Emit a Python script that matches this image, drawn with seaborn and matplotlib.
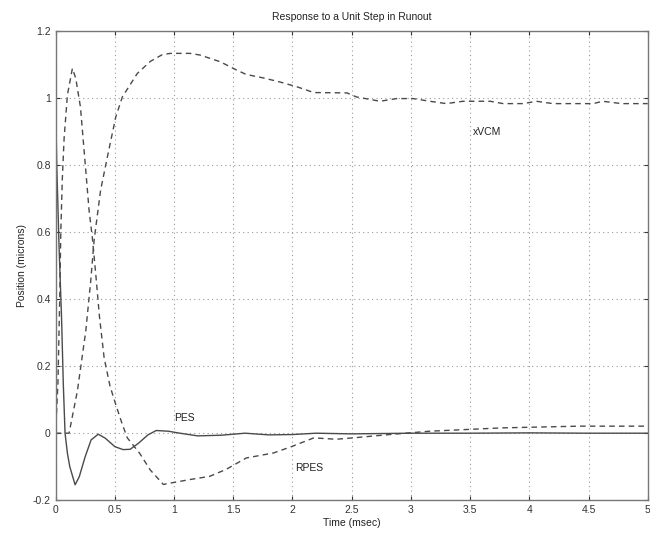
import matplotlib
matplotlib.use("Agg")
import matplotlib.pyplot as plt
import seaborn as sns

# ---- data ----
t_pes = [0.0, 0.01, 0.03, 0.05, 0.065, 0.08, 0.10, 0.12, 0.165, 0.20, 0.25, 0.30, 0.36, 0.42,
         0.50, 0.57, 0.63, 0.70, 0.78, 0.85, 0.95, 1.05, 1.2, 1.4, 1.6, 1.8, 2.0, 2.2,
         2.5, 3.0, 3.5, 4.0, 4.5, 5.0]
pes = [1.0, 0.8, 0.55, 0.35, 0.15, 0.0, -0.06, -0.10, -0.154, -0.13, -0.07, -0.02, -0.003, -0.015,
       -0.04, -0.049, -0.048, -0.03, -0.005, 0.008, 0.006, 0.0, -0.008, -0.006, 0.0, -0.005,
       -0.004, 0.0, -0.002, 0.0, 0.0, 0.001, 0.0, 0.0]

t_rpes = [0.0, 0.02, 0.035, 0.044, 0.057, 0.072, 0.10, 0.142, 0.17, 0.21, 0.255, 0.283, 0.31,
          0.339, 0.37, 0.41, 0.46, 0.508, 0.56, 0.606, 0.71, 0.80, 0.91, 1.0, 1.14, 1.30, 1.44,
          1.61, 1.84, 2.0, 2.18, 2.37, 2.51, 2.82, 3.16, 3.78, 4.42, 5.0]
rpes = [0.0, 0.15, 0.40, 0.60, 0.76, 0.88, 1.01, 1.089, 1.06, 0.974, 0.784, 0.665, 0.585,
        0.476, 0.35, 0.225, 0.14, 0.086, 0.03, -0.014, -0.06, -0.11, -0.153, -0.147, -0.138,
        -0.129, -0.108, -0.074, -0.059, -0.039, -0.014, -0.018, -0.014, -0.004, 0.006, 0.016,
        0.021, 0.021]

t_xvcm = [0.0, 0.09, 0.114, 0.184, 0.255, 0.297, 0.325, 0.38, 0.437, 0.508, 0.564, 0.69, 0.80,
          0.90, 0.97, 1.135, 1.22, 1.39, 1.53, 1.61, 1.75, 1.89, 2.04, 2.18, 2.46, 2.54, 2.74,
          2.88, 3.02, 3.16, 3.30, 3.44, 3.67, 3.78, 3.95, 4.06, 4.20, 4.54, 4.62, 4.78, 5.0]
xvcm = [0.0, 0.0, 0.0, 0.126, 0.305, 0.455, 0.575, 0.725, 0.824, 0.944, 1.004, 1.074, 1.11,
        1.13, 1.134, 1.134, 1.129, 1.109, 1.084, 1.071, 1.061, 1.049, 1.034, 1.017, 1.016, 1.004,
        0.991, 0.999, 0.999, 0.991, 0.984, 0.991, 0.991, 0.984, 0.984, 0.991, 0.984, 0.984,
        0.991, 0.984, 0.984]

x_ticks = [0, 0.5, 1, 1.5, 2, 2.5, 3, 3.5, 4, 4.5, 5]
x_tick_labels = ["0", "0.5", "1", "1.5", "2", "2.5", "3", "3.5", "4", "4.5", "5"]
y_ticks = [-0.2, 0, 0.2, 0.4, 0.6, 0.8, 1, 1.2]
y_tick_labels = ["-0.2", "0", "0.2", "0.4", "0.6", "0.8", "1", "1.2"]

sns.set_style("white")
plt.rcParams["font.family"] = ["Liberation Sans", "DejaVu Sans"]

fig = plt.figure(figsize=(6.5, 5.39), dpi=100)
ax = fig.add_axes([0.0855, 0.072, 0.911, 0.870])

lc = "#4a4a4a"
sns.lineplot(x=t_pes, y=pes, sort=False, ax=ax, color=lc, lw=1.0, linestyle="-")
sns.lineplot(x=t_rpes, y=rpes, sort=False, ax=ax, color=lc, lw=1.0, linestyle=(0, (4, 3)))
sns.lineplot(x=t_xvcm, y=xvcm, sort=False, ax=ax, color=lc, lw=1.0, linestyle=(0, (4, 3)))

ax.set_xlim(0, 5)
ax.set_ylim(-0.2, 1.2)
ax.set_xticks(x_ticks)
ax.set_xticklabels(x_tick_labels)
ax.set_yticks(y_ticks)
ax.set_yticklabels(y_tick_labels)
ax.grid(True, linestyle=(0, (1, 3)), color="#9a9a9a", lw=0.8)
ax.tick_params(direction="in", length=3, labelsize=7.5, colors="#333333",
               top=True, right=True, bottom=True, left=True)
for s in ax.spines.values():
    s.set_color("#777777")
    s.set_linewidth(1.0)

ax.set_title("Response to a Unit Step in Runout", fontsize=7.5, color="#222222", pad=8)
ax.set_xlabel("Time (msec)", fontsize=7.5, color="#222222", labelpad=2)
ax.set_ylabel("Position (microns)", fontsize=7.5, color="#222222", labelpad=4)

ax.text(3.52, 0.90, "xVCM", fontsize=7.5, color="#222222", va="center", ha="left")
ax.text(1.0, 0.046, "PES", fontsize=7.5, color="#222222", va="center", ha="left")
ax.text(2.02, -0.105, "RPES", fontsize=7.5, color="#222222", va="center", ha="left")

fig.savefig("out.png", dpi=100)
